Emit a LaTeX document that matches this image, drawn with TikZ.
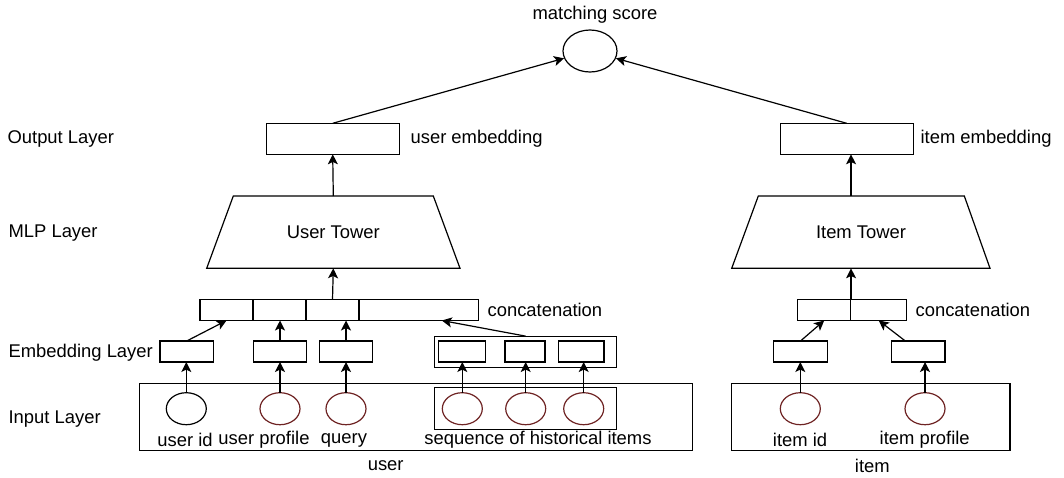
\documentclass[tikz,border=0pt]{standalone}
\usepackage{fontspec}
\setmainfont{Liberation Sans}
\usetikzlibrary{arrows.meta,shapes.geometric,calc}

\definecolor{featred}{RGB}{110,35,35}

\begin{document}
\begin{tikzpicture}[x=0.5pt,y=-0.5pt,line width=0.6pt,
    every node/.style={font=\fontsize{9.2}{11}\selectfont},
    tag/.style={anchor=west, inner sep=0pt},
    box/.style={draw, inner sep=0pt, outer sep=0pt, minimum height=10.5pt},
    emb/.style={box, minimum width=26.7pt},
    outbox/.style={box, minimum width=66.5pt, minimum height=15.5pt},
    feat/.style={draw=featred, ellipse, inner sep=0pt, outer sep=0pt,
        minimum width=20pt, minimum height=16pt},
    arr/.style={-{Stealth[length=5pt,width=5pt,inset=1.2pt]}}]
    \useasboundingbox (0,0) rectangle (1064,477);

    % layer names
    \node[tag] (lout) at (7,139) {Output Layer};
    \node[tag] (lmlp) at (8,233) {MLP Layer};
    \node[tag] (lemb) at (8,353) {Embedding Layer};
    \node[tag] (lin) at (8,419) {Input Layer};

    % matching score
    \node[draw, ellipse, inner sep=0pt, minimum width=27pt, minimum height=21pt] (score) at (590,51) {};
    \node (lscore) at (595,15) {matching score};

    % output embeddings
    \node[outbox] (ue) at (332.7,138.8) {};
    \node[tag] (lue) at (410,139) {user embedding};
    \node[outbox] (ie) at (846.7,138.8) {};
    \node[tag] (lie) at (920,139) {item embedding};

    % towers
    \draw (206.7,268.3) -- (233.3,196) -- (433.3,196) -- (460,268.3) -- cycle;
    \node (ut) at (333.3,232.2) {User Tower};
    \coordinate (uttop) at (333.3,196);
    \coordinate (utbot) at (333.3,268.3);
    \draw (731.7,268.3) -- (758.3,196) -- (964.3,196) -- (990,268.3) -- cycle;
    \node (it) at (861,232.2) {Item Tower};
    \coordinate (ittop) at (851,196);
    \coordinate (itbot) at (851,268.3);

    % concatenation, user side
    \node[box, minimum width=26.5pt] (cu1) at (226.5,310) {};
    \node[box, minimum width=26.5pt] (cu2) at (279.5,310) {};
    \node[box, minimum width=26.5pt] (cu3) at (332.5,310) {};
    \node[box, minimum width=59.9pt] (cu4) at (418.8,310) {};
    \node[tag] (lcu) at (487,310) {concatenation};
    % concatenation, item side
    \node[box, minimum width=26.5pt] (ci1) at (824.2,310) {};
    \node[box, minimum width=28pt] (ci2) at (878.7,310) {};
    \node[tag] (lci) at (915,310) {concatenation};

    % embedding layer
    \node[emb] (eu1) at (186.7,351.5) {};
    \node[emb] (eu2) at (280,351.5) {};
    \node[emb] (eu3) at (346,351.5) {};
    \node[box, minimum width=91.2pt, minimum height=15.6pt] (seqemb) at (525.5,351.7) {};
    \node[box, minimum width=23.3pt] (es1) at (462,351.5) {};
    \node[box, minimum width=20pt] (es2) at (525,351.5) {};
    \node[box, minimum width=22.7pt] (es3) at (581.3,351.5) {};
    \node[emb] (ei1) at (800.5,351.5) {};
    \node[emb] (ei2) at (918.3,351.5) {};

    % input layer
    \node[box, minimum width=276.4pt, minimum height=33.4pt] (uin) at (415.7,416.7) {};
    \node[box, minimum width=139.2pt, minimum height=33.4pt] (iin) at (870.8,416.7) {};
    \node[box, minimum width=91.2pt, minimum height=20.8pt] (seqin) at (525.5,408.5) {};
    \node[feat, draw=black] (fu1) at (186.3,408.7) {};
    \node[feat] (fu2) at (280,408.7) {};
    \node[feat] (fu3) at (346,408.7) {};
    \node[feat] (fs1) at (462.3,408.7) {};
    \node[feat] (fs2) at (525.7,408.7) {};
    \node[feat] (fs3) at (583.7,408.7) {};
    \node[feat] (fi1) at (800.3,408.7) {};
    \node[feat] (fi2) at (925,408.7) {};
    \node (lfu1) at (185,440) {user id};
    \node (lfu2) at (264,440) {user profile};
    \node (lfu3) at (344,440) {query};
    \node (lseq) at (538,440) {sequence of historical items};
    \node (lfi1) at (800,440) {item id};
    \node (lfi2) at (924.7,440) {item profile};
    \node (luser) at (385.7,465.7) {user};
    \node (litem) at (872.3,465.7) {item};

    % arrows to the score
    \draw[arr] (ue.north) -- (score);
    \draw[arr] (ie.north) -- (score);
    % towers
    \draw[arr] (uttop) -- (ue.south);
    \draw[arr] (cu3.north) -- (utbot);
    \draw[arr] (ittop) -- (ittop |- ie.south);
    \draw[arr] (itbot |- ci1.north) -- (itbot);
    % embeddings to concatenation
    \draw[arr] (eu1.north) -- (cu1.south);
    \draw[arr] (eu2.north) -- (eu2.north |- cu2.south);
    \draw[arr] (eu3.north) -- (eu3.north |- cu3.south);
    \draw[arr] (seqemb.north) -- ($(cu4.south)+(23,0)$);
    \draw[arr] (ei1.north) -- (ci1.south);
    \draw[arr] ($(ei2.north)+(-13,0)$) -- (ci2.south);
    % features to embeddings
    \foreach \f/\e in {fu1/eu1, fu2/eu2, fu3/eu3, fs1/es1, fs2/es2, fs3/es3, fi1/ei1, fi2/ei2}
        \draw[arr] (\f.north) -- (\f.north |- \e.south);
\end{tikzpicture}
\end{document}
